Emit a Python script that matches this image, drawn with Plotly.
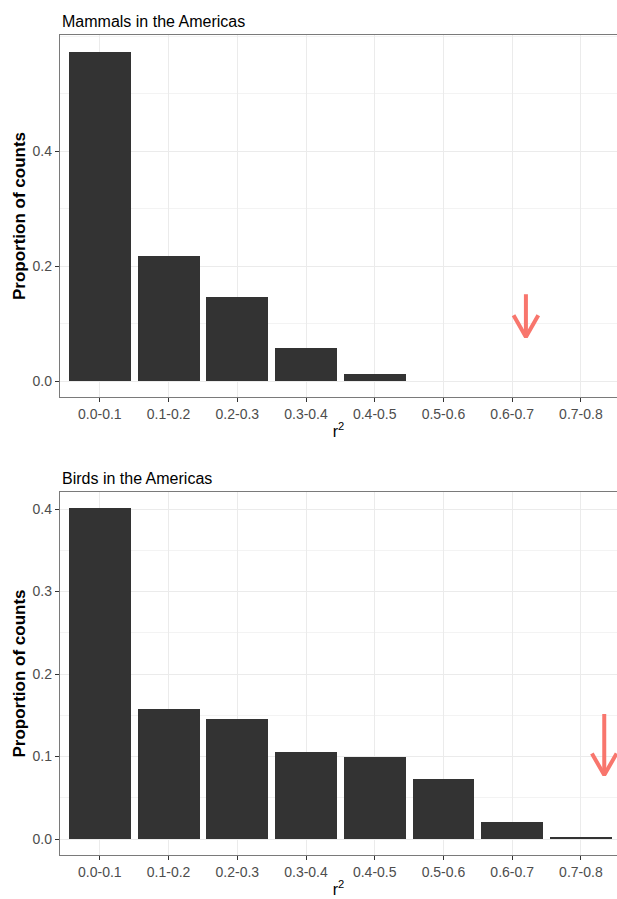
import plotly.graph_objects as go

categories = ["0.0-0.1", "0.1-0.2", "0.2-0.3", "0.3-0.4", "0.4-0.5", "0.5-0.6", "0.6-0.7", "0.7-0.8"]
mammals = [0.572, 0.217, 0.146, 0.057, 0.012, 0.0, 0.0, 0.0]
birds = [0.401, 0.158, 0.145, 0.105, 0.100, 0.073, 0.021, 0.003]
mammal_ticks = [0.0, 0.2, 0.4]
bird_ticks = [0.0, 0.1, 0.2, 0.3, 0.4]

# arrow markers: (x position in category units, tail y, tip y)
mammal_arrow = (6.2, 0.151, 0.0765)
bird_arrow = (7.34, 0.1515, 0.0776)

W, H = 617, 899
FONT = "Liberation Sans, Arial, sans-serif"
BAR = "#333333"
RED = "#F8766D"

xs = list(range(len(categories)))

fig = go.Figure()
fig.add_trace(go.Bar(x=xs, y=mammals, width=0.9, marker=dict(color=BAR, line=dict(width=0)),
                     xaxis="x", yaxis="y", showlegend=False))
fig.add_trace(go.Bar(x=xs, y=birds, width=0.9, marker=dict(color=BAR, line=dict(width=0)),
                     xaxis="x2", yaxis="y2", showlegend=False))


def arrow(a, xa, ya, dx, dy):
    x, yt, yp = a
    fig.add_trace(go.Scatter(x=[x, x], y=[yt, yp], mode="lines", line=dict(color=RED, width=4),
                             xaxis=xa, yaxis=ya, showlegend=False, hoverinfo="skip"))
    fig.add_trace(go.Scatter(x=[x - dx, x, x + dx], y=[yp + dy, yp, yp + dy], mode="lines",
                             line=dict(color=RED, width=4), xaxis=xa, yaxis=ya,
                             showlegend=False, hoverinfo="skip"))


arrow(mammal_arrow, "x", "y", 0.18, 0.038)
arrow(bird_arrow, "x2", "y2", 0.18, 0.026)


def py(p):
    return 1 - p / H


xrange = [-0.58, (617 - 100) / 68.7]
common_x = dict(range=xrange, tickvals=xs, ticktext=categories, showgrid=True, gridcolor="#ebebeb",
                gridwidth=1, showline=True, linecolor="#7a7a7a", linewidth=1.3, mirror=True,
                ticks="outside", ticklen=4, tickcolor="#333333",
                tickfont=dict(family=FONT, size=14, color="#4d4d4d"), zeroline=False,
                domain=[0, 1], automargin=False, fixedrange=True)
common_y = dict(showgrid=True, gridcolor="#ebebeb", gridwidth=1, showline=True, linecolor="#7a7a7a",
                linewidth=1.3, ticks="outside", ticklen=4, tickcolor="#333333",
                tickfont=dict(family=FONT, size=14, color="#4d4d4d"), zeroline=False,
                automargin=False, tickformat=".1f",
                title=dict(text="<b>Proportion of counts</b>", font=dict(family=FONT, size=17, color="black"),
                           standoff=2))

fig.update_layout(
    width=W, height=H, margin=dict(l=60, r=0, t=0, b=0),
    plot_bgcolor="white", paper_bgcolor="white", bargap=0,
    xaxis=dict(**common_x, anchor="y",
               title=dict(text="r<sup>2</sup>", font=dict(family=FONT, size=16, color="black"), standoff=4)),
    xaxis2=dict(**common_x, anchor="y2",
                title=dict(text="r<sup>2</sup>", font=dict(family=FONT, size=16, color="black"), standoff=4)),
    yaxis=dict(**common_y, anchor="x", domain=[py(397), py(35)], range=[-0.0278, 0.602],
               tickvals=mammal_ticks,
               minor=dict(dtick=0.1, tick0=0, showgrid=True, gridcolor="#f3f3f3", gridwidth=0.8)),
    yaxis2=dict(**common_y, anchor="x2", domain=[py(855), py(492)], range=[-0.0194, 0.4206],
                tickvals=bird_ticks,
                minor=dict(dtick=0.05, tick0=0, showgrid=True, gridcolor="#f3f3f3", gridwidth=0.8)),
    annotations=[
        dict(text="Mammals in the Americas", x=0, y=py(21), xref="paper", yref="paper",
             xanchor="left", yanchor="middle", showarrow=False, font=dict(family=FONT, size=16, color="black")),
        dict(text="Birds in the Americas", x=0, y=py(478), xref="paper", yref="paper",
             xanchor="left", yanchor="middle", showarrow=False, font=dict(family=FONT, size=16, color="black")),
    ],
)

fig.write_html("out.html", config={"displayModeBar": False},
               post_script="document.body.style.margin='0px';")
